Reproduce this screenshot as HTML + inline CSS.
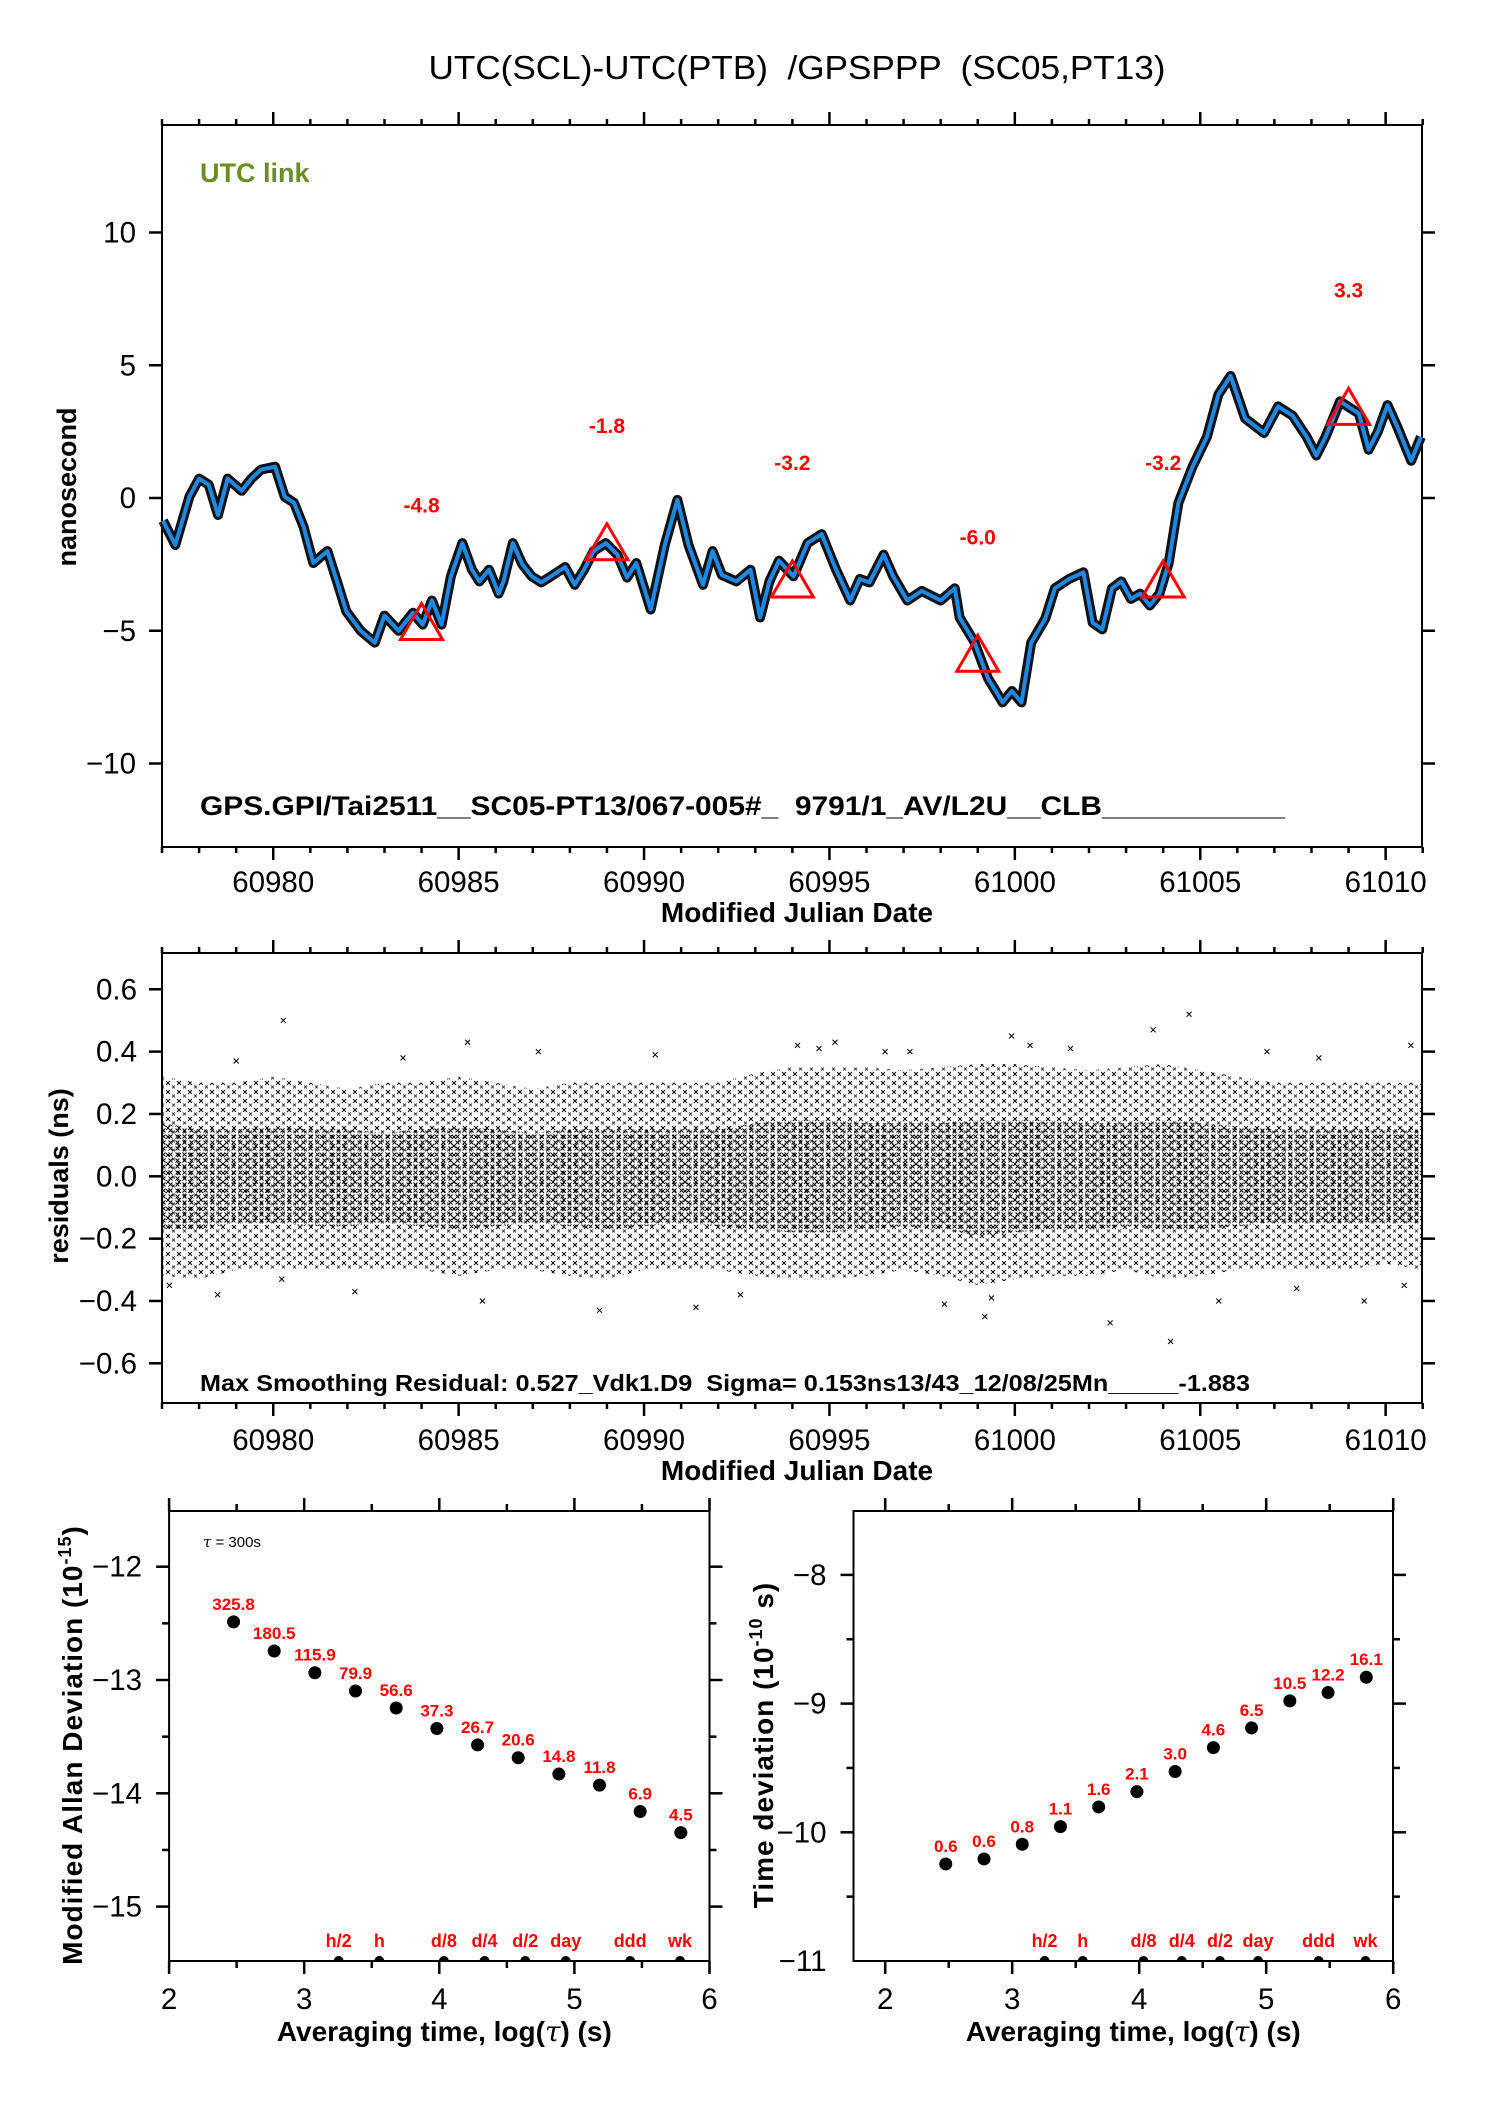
<!DOCTYPE html>
<html><head><meta charset="utf-8"><style>
html,body{margin:0;padding:0;background:#fff;}
svg{display:block;font-family:"Liberation Sans",Arial,sans-serif;}
.pre{white-space:pre;}
</style></head><body>
<svg id="fig" xmlns="http://www.w3.org/2000/svg" width="1488" height="2105" viewBox="0 0 1488 2105">
<defs>
<pattern id="pOuter" width="11" height="9" patternUnits="userSpaceOnUse"><path d="M1 1L5 5M5 1L1 5" stroke="#000" stroke-width="0.9"/><path d="M7 5.5L10 8.5M10 5.5L7 8.5" stroke="#000" stroke-width="0.7"/></pattern>
<pattern id="pInner" width="7" height="6" patternUnits="userSpaceOnUse"><path d="M0.5 0.5L4.5 4.5M4.5 0.5L0.5 4.5" stroke="#000" stroke-width="1"/></pattern>
</defs>
</svg>
<script>
// ---------- top plot data ----------
const linkMjd = [60977.03,60977.36,60977.74,60978.00,60978.26,60978.51,60978.77,60979.15,60979.41,60979.67,60980.05,60980.31,60980.56,60980.82,60981.08,60981.46,60981.72,60981.97,60982.36,60982.74,60983.0,60983.38,60983.77,60984.03,60984.28,60984.54,60984.79,60985.1,60985.36,60985.56,60985.82,60986.08,60986.21,60986.46,60986.72,60986.97,60987.23,60987.49,60987.87,60988.13,60988.38,60988.64,60988.97,60989.28,60989.54,60989.79,60990.18,60990.56,60990.9,60991.2,60991.59,60991.85,60992.1,60992.49,60992.87,60993.13,60993.38,60993.64,60994.03,60994.41,60994.79,60995.18,60995.56,60995.82,60996.08,60996.46,60996.72,60997.1,60997.49,60998.0,60998.38,60998.51,60998.9,60999.28,60999.67,60999.92,61000.18,61000.44,61000.82,61001.08,61001.46,61001.85,61002.1,61002.36,61002.62,61002.87,61003.13,61003.38,61003.64,61003.9,61004.15,61004.41,61004.79,61005.18,61005.49,61005.82,61006.21,61006.72,61007.1,61007.49,61007.87,61008.13,61008.38,61008.77,61009.03,61009.28,61009.54,61009.79,61010.05,61010.31,61010.69,61010.95];
const linkNs = [-0.86,-1.77,0.05,0.73,0.5,-0.64,0.73,0.27,0.73,1.07,1.18,0.05,-0.18,-1.09,-2.45,-2.0,-3.14,-4.27,-5.0,-5.45,-4.43,-5.0,-4.32,-4.77,-3.86,-4.77,-2.95,-1.7,-2.7,-3.14,-2.7,-3.6,-3.14,-1.7,-2.5,-2.95,-3.18,-2.95,-2.6,-3.27,-2.7,-2.0,-1.7,-2.13,-3.0,-2.45,-4.2,-1.77,-0.07,-1.77,-3.27,-2.0,-2.9,-3.14,-2.7,-4.5,-3.14,-2.36,-2.95,-1.7,-1.36,-2.7,-3.86,-3.05,-3.18,-2.13,-2.95,-3.86,-3.5,-3.86,-3.4,-4.5,-5.4,-6.8,-7.7,-7.27,-7.7,-5.45,-4.55,-3.4,-3.05,-2.8,-4.7,-4.95,-3.4,-3.14,-3.8,-3.6,-4.05,-3.6,-2.45,-0.18,1.18,2.3,3.9,4.6,3.0,2.45,3.45,3.1,2.3,1.6,2.3,3.64,3.4,3.18,1.82,2.5,3.5,2.7,1.4,2.3];
const markMjd = [60984,60989,60994,60999,61004,61009];
const markNs = [-4.8,-1.8,-3.2,-6.0,-3.2,3.3];
const markLabels = ["-4.8","-1.8","-3.2","-6.0","-3.2","3.3"];
const topYTicks = [10,5,0,-5,-10];
const topYTickLabels = ["10","5","0","\u22125","\u221210"];
const mjdTicks = [60980,60985,60990,60995,61000,61005,61010];
const mjdTickLabels = ["60980","60985","60990","60995","61000","61005","61010"];
// ---------- residual plot data ----------
const resDays = [60977,60978,60979,60980,60981,60982,60983,60984,60985,60986,60987,60988,60989,60990,60991,60992,60993,60994,60995,60996,60997,60998,60999,61000,61001,61002,61003,61004,61005,61006,61007,61008,61009,61010,61011];
const resUpper = [0.32,0.3,0.3,0.32,0.3,0.28,0.3,0.3,0.32,0.3,0.28,0.3,0.3,0.3,0.3,0.3,0.33,0.35,0.35,0.35,0.34,0.35,0.36,0.36,0.35,0.34,0.35,0.36,0.34,0.32,0.3,0.3,0.3,0.3,0.3];
const resLower = [-0.32,-0.33,-0.3,-0.3,-0.3,-0.3,-0.3,-0.3,-0.32,-0.3,-0.3,-0.32,-0.33,-0.3,-0.3,-0.3,-0.32,-0.33,-0.33,-0.32,-0.3,-0.32,-0.35,-0.33,-0.32,-0.32,-0.3,-0.33,-0.32,-0.3,-0.3,-0.3,-0.3,-0.28,-0.3];
const resCoreUpper = [0.17,0.15,0.15,0.16,0.15,0.15,0.14,0.15,0.16,0.15,0.14,0.15,0.15,0.15,0.15,0.15,0.17,0.18,0.18,0.17,0.17,0.17,0.18,0.18,0.18,0.17,0.17,0.18,0.17,0.16,0.15,0.15,0.15,0.15,0.15];
const resCoreLower = [-0.17,-0.17,-0.15,-0.15,-0.16,-0.16,-0.15,-0.16,-0.17,-0.16,-0.15,-0.16,-0.17,-0.16,-0.15,-0.16,-0.17,-0.18,-0.18,-0.17,-0.16,-0.17,-0.19,-0.18,-0.17,-0.17,-0.16,-0.17,-0.17,-0.16,-0.15,-0.15,-0.15,-0.15,-0.15];
const outMjd = [60980.27,60985.24,60987.15,60994.14,60994.72,60995.15,60997.17,60999.91,61000.41,61003.73,61004.7,61010.68,61004.2,61002.57,60999.19,60991.4,60988.8,60985.64,61009.42,61010.5,60980.23,60999.37,60977.2,60979.0,60983.5,60990.3,60996.5,61001.5,61006.8,61008.2,60978.5,60982.2,60992.6,60998.1,61005.5,61007.6];
const outVal = [0.5,0.43,0.4,0.42,0.41,0.43,0.4,0.45,0.42,0.47,0.52,0.42,-0.53,-0.47,-0.45,-0.42,-0.43,-0.4,-0.4,-0.35,-0.33,-0.39,-0.35,0.37,0.38,0.39,0.4,0.41,0.4,0.38,-0.38,-0.37,-0.38,-0.41,-0.4,-0.36];
const resTicks = [0.6,0.4,0.2,0,-0.2,-0.4,-0.6];
const resTickLabels = ["0.6","0.4","0.2","0.0","\u22120.2","\u22120.4","\u22120.6"];
// ---------- stability plots ----------
const logTau = [2.477,2.778,3.079,3.380,3.681,3.982,4.283,4.584,4.885,5.186,5.487,5.788];
const mdevLog = [-12.487,-12.744,-12.936,-13.097,-13.247,-13.428,-13.573,-13.686,-13.830,-13.928,-14.161,-14.347];
const mdevLabels = ["325.8","180.5","115.9","79.9","56.6","37.3","26.7","20.6","14.8","11.8","6.9","4.5"];
const tdevLog = [-10.246,-10.207,-10.093,-9.956,-9.803,-9.684,-9.528,-9.342,-9.189,-8.979,-8.914,-8.795];
const tdevLabels = ["0.6","0.6","0.8","1.1","1.6","2.1","3.0","4.6","6.5","10.5","12.2","16.1"];
const spanLog = [3.255,3.556,4.034,4.335,4.636,4.936,5.413,5.782];
const spanLabels = ["h/2","h","d/8","d/4","d/2","day","ddd","wk"];
const mdevYTicks = [-12,-13,-14,-15];
const mdevYTickLabels = ["\u221212","\u221213","\u221214","\u221215"];
const tdevYTicks = [-8,-9,-10,-11];
const tdevYTickLabels = ["\u22128","\u22129","\u221210","\u221211"];
const logXTicks = [2,3,4,5,6];
const logXTickLabels = ["2","3","4","5","6"];

const NS = "http://www.w3.org/2000/svg";
const svg = document.getElementById('fig');
function mk(tag, attrs, parent) {
  const e = document.createElementNS(NS, tag);
  for (const k in attrs) e.setAttribute(k, attrs[k]);
  (parent || svg).appendChild(e);
  return e;
}
function txt(s, attrs, parent) { const e = mk('text', attrs, parent); e.textContent = s; return e; }

const xT = m => 162 + (m - 60977) * 37.08;
const yT = v => 498 - v * 26.55;
const yM = v => 1176.3 - v * 311.7;
const xL = l => 169.1 + (l - 2) * 135.1;
const yL = v => 1566.7 - (v + 12) * 113.3;
const xR = l => 885.2 + (l - 2) * 127;
const yR = v => 1832.3 - (v + 10) * 128.7;

let t = txt("UTC(SCL)-UTC(PTB)  /GPSPPP  (SC05,PT13)", {x:797, y:79, 'font-size':33, 'text-anchor':'middle', 'class':'pre', textLength:737, lengthAdjust:'spacingAndGlyphs'});



function frame(x0, y0, x1, y1, name) {
  const r = mk('rect', {x:x0, y:y0, width:x1 - x0, height:y1 - y0, fill:'none', stroke:'#000', 'stroke-width':2});
  
  
}
function tick(x1, y1, x2, y2, w) {
  const l = mk('line', {x1:x1, y1:y1, x2:x2, y2:y2, stroke:'#000', 'stroke-width':w || 2.5});
  
  
}
function mjdAxes(y0, y1, yLab, gname) {
  for (let m = 60977; m <= 61011; m++) {
    const x = xT(m); const major = m % 5 === 0; const L = major ? 13 : 6;
    tick(x, y1, x, y1 + L); tick(x, y0, x, y0 - L);
  }
  mjdTicks.forEach((m, i) => {
    const e = txt(mjdTickLabels[i], {x:xT(m), y:yLab, 'font-size':29.5, 'text-anchor':'middle'});
    
    
  });
  const e = txt("Modified Julian Date", {x:797, y:yLab + 30, 'font-size':28, 'font-weight':'bold', 'text-anchor':'middle'});
  
  
}

// ================= TOP PLOT =================
frame(162, 125, 1422, 847, 'top-plot-frame');
topYTicks.forEach((v, i) => {
  tick(149, yT(v), 162, yT(v)); tick(1422, yT(v), 1435, yT(v));
  const e = txt(topYTickLabels[i], {x:136, y:yT(v) + 10, 'font-size':29.5, 'text-anchor':'end'});
  
  
});
mjdAxes(125, 847, 892, 'top-x-axis-title');
t = txt("nanosecond", {x:0, y:0, 'font-size':27, 'font-weight':'bold', 'text-anchor':'middle', transform:'translate(76,487) rotate(-90)'});


t = txt("UTC link", {x:200, y:182, 'font-size':27, 'font-weight':'bold', fill:'#6b8e23'});


t = txt("GPS.GPI/Tai2511__SC05-PT13/067-005#_  9791/1_AV/L2U__CLB___________", {x:200, y:815, 'font-size':27, 'font-weight':'bold', textLength:1085, lengthAdjust:'spacingAndGlyphs', 'class':'pre'});



const pts = linkMjd.map((m, i) => xT(m).toFixed(1) + ',' + yT(linkNs[i]).toFixed(1)).join(' ');
const band = mk('polyline', {points:pts, fill:'none', stroke:'#111', 'stroke-width':10, 'stroke-linejoin':'round'});


const line = mk('polyline', {points:pts, fill:'none', stroke:'#1e88e5', 'stroke-width':4, 'stroke-linejoin':'round'});


markMjd.forEach((m, i) => {
  const cx = xT(m), cy = yT(markNs[i]);
  const p = mk('polygon', {points:`${cx},${cy-22} ${cx-21},${cy+14} ${cx+21},${cy+14}`, fill:'none', stroke:'#ff0000', 'stroke-width':3});
  
  
  const e = txt(markLabels[i], {x:cx, y:yT(markNs[i] + 4.55) + 8, 'font-size':21, 'font-weight':'bold', fill:'#ff0000', 'text-anchor':'middle'});
  
  
});

// ================= RESIDUAL PLOT =================
frame(162, 953, 1422, 1403, 'residual-plot-frame');
resTicks.forEach((v, i) => {
  tick(149, yM(v), 162, yM(v)); tick(1422, yM(v), 1435, yM(v));
  const e = txt(resTickLabels[i], {x:137, y:yM(v) + 10, 'font-size':29.5, 'text-anchor':'end'});
  
  
});
mjdAxes(953, 1403, 1450, 'residual-x-axis-title');
function bandPath(up, lo) {
  let d = resDays.map((m, i) => (i ? 'L' : 'M') + Math.max(163, Math.min(1421, xT(m))).toFixed(1) + ' ' + yM(up[i]).toFixed(1)).join(' ');
  for (let i = resDays.length - 1; i >= 0; i--) d += ' L' + Math.max(163, Math.min(1421, xT(resDays[i]))).toFixed(1) + ' ' + yM(lo[i]).toFixed(1);
  return d + ' Z';
}
let bp = mk('path', {d:bandPath(resUpper, resLower), fill:'url(#pOuter)'});


bp = mk('path', {d:bandPath(resCoreUpper, resCoreLower), fill:'url(#pInner)'});


outMjd.forEach((m, i) => {
  const x = xT(m), y = yM(outVal[i]);
  const p = mk('path', {d:`M${x-2.5} ${y-2.5}L${x+2.5} ${y+2.5}M${x+2.5} ${y-2.5}L${x-2.5} ${y+2.5}`, stroke:'#000', 'stroke-width':1});
  
  
});
t = txt("residuals (ns)", {x:0, y:0, 'font-size':27, 'font-weight':'bold', 'text-anchor':'middle', transform:'translate(68,1176) rotate(-90)'});


t = txt("Max Smoothing Residual: 0.527_Vdk1.D9  Sigma= 0.153ns13/43_12/08/25Mn_____-1.883", {x:200, y:1391, 'font-size':23, 'font-weight':'bold', textLength:1050, lengthAdjust:'spacingAndGlyphs', 'class':'pre'});



// ================= STABILITY PLOTS =================
function stabPlot(x0, x1, xf, yf, yTicks, yLabs, vals, labs, vmin, vmax, name) {
  frame(x0, 1511, x1, 1961, name + '-frame');
  for (let l = 2; l <= 6.001; l += 0.5) {
    const x = xf(l); if (x < x0 - 1) continue; const L = (l % 1 === 0) ? 13 : 7;
    tick(x, 1961, x, 1961 + L); tick(x, 1511, x, 1511 - L);
  }
  for (let v = vmax; v >= vmin - 0.001; v -= 0.5) {
    const y = yf(v); if (y < 1512 || y > 1960) continue; const L = (Math.abs(v % 1) < 0.01) ? 13 : 7;
    tick(x0 - L, y, x0, y); tick(x1, y, x1 + L, y);
  }
  logXTicks.forEach((l, i) => {
    const e = txt(logXTickLabels[i], {x:xf(l), y:2009, 'font-size':29.5, 'text-anchor':'middle'});
    
    
  });
  yTicks.forEach((v, i) => {
    const e = txt(yLabs[i], {x:x0 - 27, y:yf(v) + 10, 'font-size':29.5, 'text-anchor':'end'});
    
    
  });
  logTau.forEach((l, i) => {
    const c = mk('circle', {cx:xf(l), cy:yf(vals[i]), r:6.5, fill:'#000'});
    
    
    const e = txt(labs[i], {x:xf(l), y:yf(vals[i]) - 12, 'font-size':17, 'font-weight':'bold', fill:'#ff0000', 'text-anchor':'middle'});
    
    
  });
  spanLog.forEach((l, i) => {
    const c = mk('path', {d:`M${xf(l)-5} 1961 A5 5 0 0 1 ${xf(l)+5} 1961 Z`, fill:'#000'});
    
    
    const e = txt(spanLabels[i], {x:xf(l), y:1947, 'font-size':18, 'font-weight':'bold', fill:'#ff0000', 'text-anchor':'middle'});
    
    
  });
  const e = txt("", {x:(x0 + x1) / 2 + (name === 'mdev' ? 5 : 10), y:2041, 'font-size':28, 'font-weight':'bold', 'text-anchor':'middle'});
  e.innerHTML = 'Averaging time, log(<tspan font-family="DejaVu Serif, serif" font-style="italic" font-weight="normal">\u03c4</tspan>) (s)';
  
  
}
stabPlot(169.1, 709.5, xL, yL, mdevYTicks, mdevYTickLabels, mdevLog, mdevLabels, -15.5, -11.5, 'mdev');
stabPlot(853.5, 1393, xR, yR, tdevYTicks, tdevYTickLabels, tdevLog, tdevLabels, -11, -7.5, 'tdev');

t = txt("", {x:0, y:0, 'font-size':28, 'font-weight':'bold', 'text-anchor':'middle', transform:'translate(82,1745) rotate(-90)', 'letter-spacing':'1'});
t.innerHTML = 'Modified Allan Deviation (10<tspan font-size="18" dy="-11">-15</tspan><tspan dy="11">)</tspan>';


t = txt("", {x:0, y:0, 'font-size':28, 'font-weight':'bold', 'text-anchor':'middle', transform:'translate(773,1745) rotate(-90)', 'letter-spacing':'1'});
t.innerHTML = 'Time deviation (10<tspan font-size="18" dy="-11">-10</tspan><tspan dy="11"> s)</tspan>';


t = txt("", {x:203, y:1547, 'font-size':15});
t.innerHTML = '<tspan font-family="DejaVu Serif, serif" font-style="italic">\u03c4</tspan> = 300s';


</script>
</body></html>
